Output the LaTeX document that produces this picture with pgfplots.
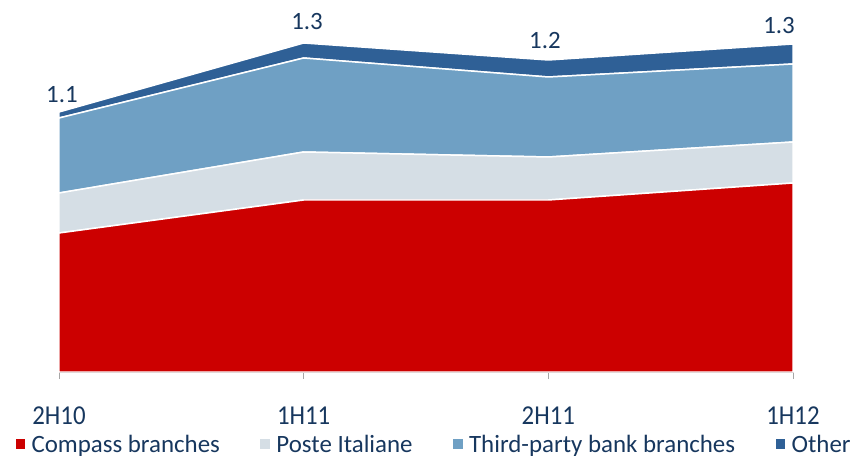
\documentclass[border=0pt]{standalone}
\usepackage{pgfplots}
\pgfplotsset{compat=1.18}
\usepackage{fontspec}
\setmainfont{Carlito}
\newfontfamily\tickfont{Carlito}[FakeStretch=0.91]
\definecolor{txt}{HTML}{17375E}
\definecolor{cRed}{HTML}{CC0000}
\definecolor{cPoste}{HTML}{D5DEE5}
\definecolor{cThird}{HTML}{6FA0C4}
\definecolor{cOther}{HTML}{2F6096}
\begin{document}
\begin{tikzpicture}[font=\fontsize{25}{29}\selectfont]
\useasboundingbox (0,0) rectangle (855bp,456bp);
\begin{axis}[
  at={(59bp,84bp)}, anchor=south west,
  scale only axis, width=734bp, height=329bp,
  xmin=0, xmax=3, ymin=0, ymax=1.316,
  stack plots=y,
  axis x line=bottom, axis y line=none,
  x axis line style={draw=gray!70, line width=1pt, -},
  xtick={0,1,2,3}, xticklabels={2H10,1H11,2H11,1H12},
  tick align=outside, xtick pos=bottom,
  major tick length=7bp,
  tick style={draw=gray!70, line width=1pt},
  xticklabel style={text=txt, yshift=-24bp, font=\tickfont\fontsize{27.4}{30}\selectfont},
  clip=false,
  legend columns=4,
  legend style={at={(-0.0613,-0.2196)}, anchor=west, draw=none, fill=none,
    inner sep=0pt, outer sep=0pt,
    nodes={inner sep=0pt, text=txt},
    /tikz/every odd column/.append style={column sep=5bp},
    /tikz/every even column/.append style={column sep=39bp}},
  legend image code/.code={\fill[#1] (0bp,-5.5bp) rectangle (11bp,5.5bp);},
]
\addplot[fill=cRed, draw=white, line width=1.5pt] coordinates {(0,0.556) (1,0.688) (2,0.688) (3,0.756)} \closedcycle;
\addlegendentry{Compass branches}
\addplot[fill=cPoste, draw=white, line width=1.5pt] coordinates {(0,0.160) (1,0.192) (2,0.172) (3,0.164)} \closedcycle;
\addlegendentry{Poste Italiane}
\addplot[fill=cThird, draw=white, line width=1.5pt] coordinates {(0,0.300) (1,0.376) (2,0.320) (3,0.312)} \closedcycle;
\addlegendentry{Third-party bank branches}
\addplot[fill=cOther, draw=white, line width=1.5pt] coordinates {(0,0.024) (1,0.060) (2,0.068) (3,0.080)} \closedcycle;
\addlegendentry{Other}
\node[text=txt, anchor=base] at (axis cs:0.012,1.076) {1.1};
\node[text=txt, anchor=base] at (axis cs:1.014,1.368) {1.3};
\node[text=txt, anchor=base] at (axis cs:1.986,1.295) {1.2};
\node[text=txt, anchor=base] at (axis cs:2.943,1.352) {1.3};
\end{axis}
\end{tikzpicture}
\end{document}
